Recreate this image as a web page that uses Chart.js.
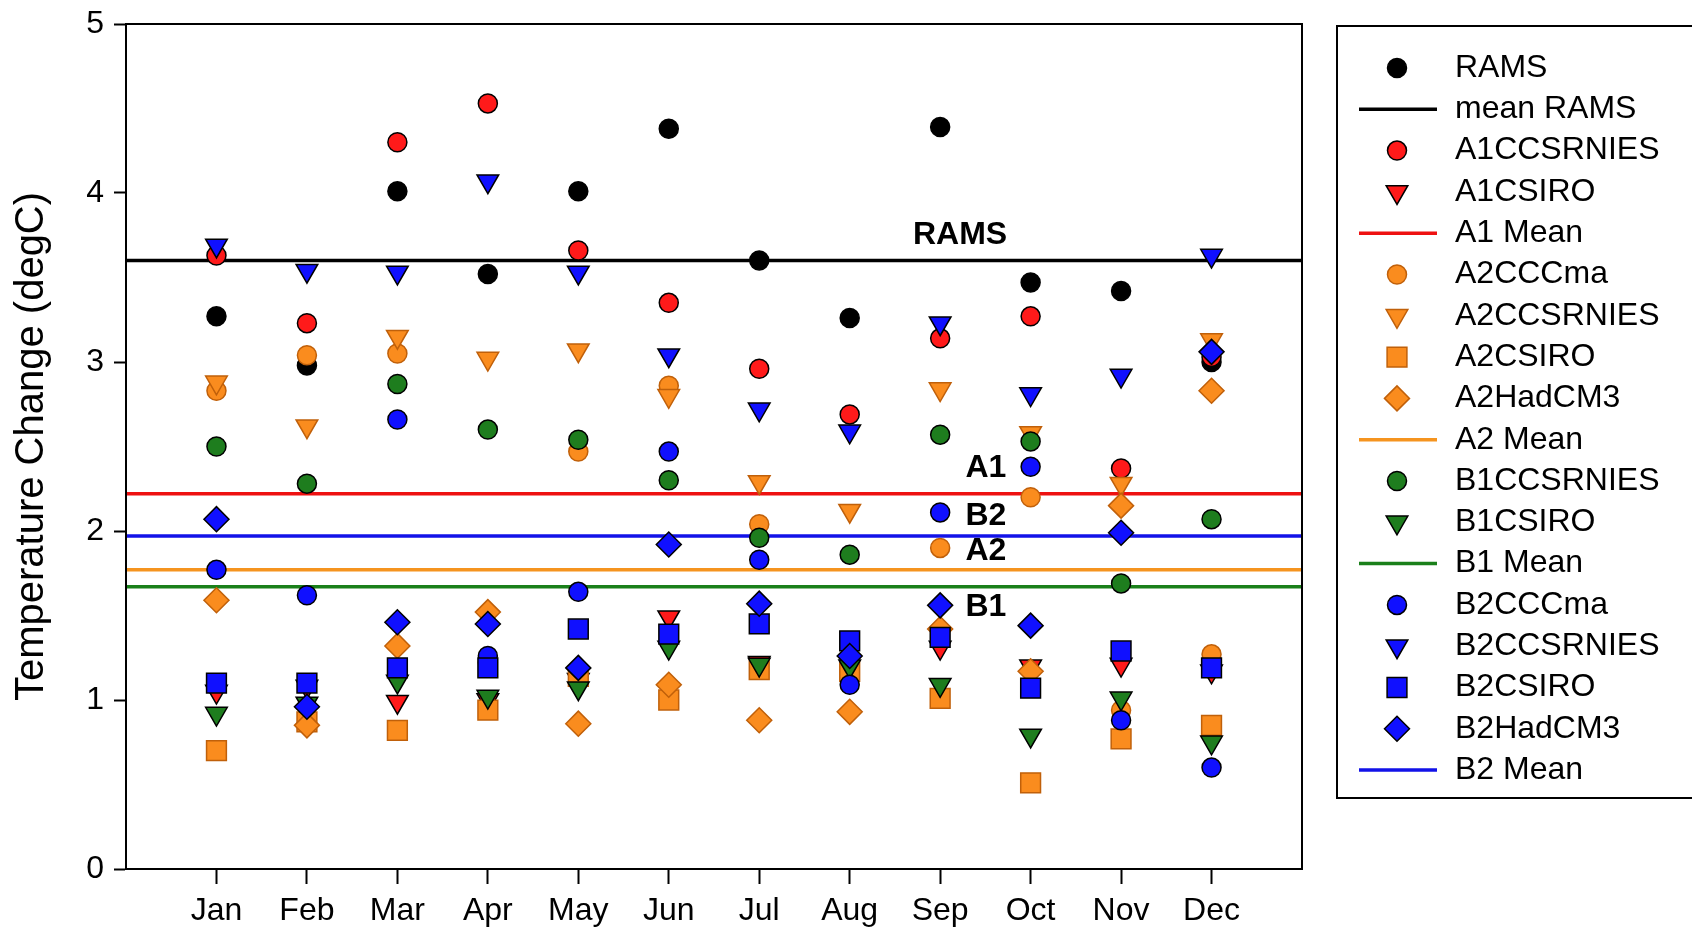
<!DOCTYPE html>
<html>
<head>
<meta charset="utf-8">
<script src="https://cdn.jsdelivr.net/npm/chart.js@4.4.1/dist/chart.umd.min.js"></script>
<style>
  body { margin: 0; background: #fff; }
  #wrap { width: 1692px; height: 933px; }
</style>
</head>
<body>
<div id="wrap"><canvas id="tempChart"></canvas></div>
<script>
const months = ["Jan", "Feb", "Mar", "Apr", "May", "Jun", "Jul", "Aug", "Sep", "Oct", "Nov", "Dec"];
const yTicks = [0, 1, 2, 3, 4, 5];

// temperature change per month (degC)
const rams       = [3.27, 2.98, 4.01, 3.52, 4.01, 4.38, 3.60, 3.26, 4.39, 3.47, 3.42, 3.00];
const a1Ccsrnies = [3.63, 3.23, 4.30, 4.53, 3.66, 3.35, 2.96, 2.69, 3.14, 3.27, 2.37, 3.03];
const a1Csiro    = [1.05, 1.08, 0.99, 1.00, 1.12, 1.49, 1.22, 1.22, 1.31, 1.20, 1.21, 1.17];
const a2Cccma    = [2.83, 3.04, 3.05, 1.22, 2.47, 2.86, 2.04, 1.17, 1.90, 2.20, 0.94, 1.27];
const a2Ccsrnies = [2.88, 2.62, 3.15, 3.02, 3.07, 2.80, 2.29, 2.12, 2.84, 2.58, 2.28, 3.13];
const a2Csiro    = [0.70, 0.87, 0.82, 0.94, 1.14, 1.00, 1.18, 1.17, 1.01, 0.51, 0.77, 0.85];
const a2Hadcm3   = [1.59, 0.85, 1.32, 1.52, 0.86, 1.09, 0.88, 0.93, 1.42, 1.17, 2.15, 2.83];
const b1Ccsrnies = [2.50, 2.28, 2.87, 2.60, 2.54, 2.30, 1.96, 1.86, 2.57, 2.53, 1.69, 2.07];
const b1Csiro    = [0.92, 0.98, 1.11, 1.02, 1.07, 1.31, 1.21, 1.20, 1.09, 0.79, 1.01, 0.75];
const b2Cccma    = [1.77, 1.62, 2.66, 1.26, 1.64, 2.47, 1.83, 1.09, 2.11, 2.38, 0.88, 0.60];
const b2Ccsrnies = [3.69, 3.54, 3.53, 4.07, 3.53, 3.04, 2.72, 2.59, 3.23, 2.81, 2.92, 3.63];
const b2Csiro    = [1.10, 1.10, 1.19, 1.19, 1.42, 1.39, 1.45, 1.35, 1.37, 1.07, 1.29, 1.19];
const b2Hadcm3   = [2.07, 0.96, 1.46, 1.45, 1.19, 1.92, 1.57, 1.26, 1.56, 1.44, 1.99, 3.06];

const meanRams = 3.60;
const meanA1 = 2.22;
const meanA2 = 1.77;
const meanB1 = 1.67;
const meanB2 = 1.97;

// in-plot tags next to the mean lines
const meanTags = [
    { text: "RAMS", x: 9.22, y: 3.75, align: "center" },
    { text: "A1", x: 9.28, y: 2.37, align: "left" },
    { text: "B2", x: 9.28, y: 2.09, align: "left" },
    { text: "A2", x: 9.28, y: 1.88, align: "left" },
    { text: "B1", x: 9.28, y: 1.55, align: "left" },
];

const FONT = '"Liberation Sans", Arial, sans-serif';
const X_MIN = 0;
const X_MAX = 13;

const BLACK = "#000000";
const RED = "#ff1a1a";
const ORANGE = "#fa8c1e";
const ORANGE_EDGE = "#c0600a";
const GREEN = "#1e7d1e";
const BLUE = "#1010ff";

const shapes = {
    circle: { pointStyle: "circle", radius: 9.5, rotation: 0 },
    down: { pointStyle: "triangle", radius: 12.5, rotation: 180 },
    square: { pointStyle: "rect", radius: 14, rotation: 0 },
    diamond: { pointStyle: "rectRot", radius: 12.5, rotation: 0 },
};

function points(label, values, shape, fill, edge) {
    const s = shapes[shape];
    return {
        type: "scatter",
        label: label,
        data: values.map((v, i) => ({ x: i + 1, y: v })),
        pointStyle: s.pointStyle,
        pointRadius: s.radius,
        pointHoverRadius: s.radius,
        rotation: s.rotation,
        backgroundColor: fill,
        borderColor: edge,
        borderWidth: 1.5,
    };
}

function meanLine(label, value, color, width) {
    return {
        type: "line",
        label: label,
        data: [{ x: X_MIN, y: value }, { x: X_MAX, y: value }],
        borderColor: color,
        backgroundColor: color,
        borderWidth: width,
        pointRadius: 0,
        pointHoverRadius: 0,
        fill: false,
        order: 100,
    };
}

const datasets = [
    points("RAMS", rams, "circle", BLACK, BLACK),
    meanLine("mean RAMS", meanRams, BLACK, 3.5),
    points("A1CCSRNIES", a1Ccsrnies, "circle", RED, BLACK),
    points("A1CSIRO", a1Csiro, "down", RED, BLACK),
    meanLine("A1 Mean", meanA1, "#ee1111", 3.5),
    points("A2CCCma", a2Cccma, "circle", ORANGE, ORANGE_EDGE),
    points("A2CCSRNIES", a2Ccsrnies, "down", ORANGE, ORANGE_EDGE),
    points("A2CSIRO", a2Csiro, "square", ORANGE, ORANGE_EDGE),
    points("A2HadCM3", a2Hadcm3, "diamond", ORANGE, ORANGE_EDGE),
    meanLine("A2 Mean", meanA2, "#f5941f", 3.5),
    points("B1CCSRNIES", b1Ccsrnies, "circle", GREEN, BLACK),
    points("B1CSIRO", b1Csiro, "down", GREEN, BLACK),
    meanLine("B1 Mean", meanB1, "#1a801a", 3.5),
    points("B2CCCma", b2Cccma, "circle", BLUE, BLACK),
    points("B2CCSRNIES", b2Ccsrnies, "down", BLUE, BLACK),
    points("B2CSIRO", b2Csiro, "square", BLUE, BLACK),
    points("B2HadCM3", b2Hadcm3, "diamond", BLUE, BLACK),
    meanLine("B2 Mean", meanB2, "#1212e8", 3.5),
];

// later series sit on top, like the original
datasets.forEach((ds, i) => {
    if (ds.type === "scatter") ds.order = 50 - i;
});

const plotFrame = {
    id: "plotFrame",
    afterDraw(chart) {
        const { ctx, chartArea: a } = chart;
        ctx.save();
        ctx.strokeStyle = BLACK;
        ctx.lineWidth = 2;
        ctx.strokeRect(a.left, a.top, a.right - a.left, a.bottom - a.top);
        ctx.restore();
    },
};

const tagLabels = {
    id: "tagLabels",
    afterDatasetsDraw(chart) {
        const { ctx, scales } = chart;
        ctx.save();
        ctx.font = "bold 32px " + FONT;
        ctx.fillStyle = BLACK;
        ctx.textBaseline = "middle";
        meanTags.forEach((t) => {
            ctx.textAlign = t.align;
            ctx.fillText(t.text, scales.x.getPixelForValue(t.x), scales.y.getPixelForValue(t.y));
        });
        ctx.restore();
    },
};

const boxLegend = {
    id: "boxLegend",
    afterDraw(chart) {
        const ctx = chart.ctx;
        const left = 1337, top = 26, firstRow = 68, rowH = 41.3;
        ctx.save();
        ctx.strokeStyle = BLACK;
        ctx.lineWidth = 2;
        ctx.strokeRect(left, top, 420, 772);
        chart.data.datasets.forEach((ds, i) => {
            const y = firstRow + i * rowH;
            if (ds.type === "line") {
                ctx.strokeStyle = ds.borderColor;
                ctx.lineWidth = ds.borderWidth;
                ctx.beginPath();
                ctx.moveTo(1359, y);
                ctx.lineTo(1437, y);
                ctx.stroke();
            } else {
                ctx.fillStyle = ds.backgroundColor;
                ctx.strokeStyle = ds.borderColor;
                ctx.lineWidth = ds.borderWidth;
                Chart.helpers.drawPoint(ctx, {
                    pointStyle: ds.pointStyle,
                    rotation: ds.rotation,
                    radius: ds.pointRadius,
                    borderWidth: ds.borderWidth,
                }, 1397, y);
            }
            ctx.fillStyle = BLACK;
            ctx.font = "32px " + FONT;
            ctx.textAlign = "left";
            ctx.textBaseline = "middle";
            ctx.fillText(ds.label, 1455, y);
        });
        ctx.restore();
    },
};

new Chart(document.getElementById("tempChart"), {
    type: "scatter",
    data: { datasets: datasets },
    options: {
        responsive: true,
        maintainAspectRatio: false,
        animation: false,
        layout: { padding: { top: 24, right: 390, bottom: 0, left: 0 } },
        plugins: {
            legend: { display: false },
            tooltip: { enabled: false },
        },
        scales: {
            x: {
                type: "linear",
                min: X_MIN,
                max: X_MAX,
                afterBuildTicks: (s) => {
                    s.ticks = months.map((m, i) => ({ value: i + 1 }));
                },
                afterFit: (s) => {
                    s.height = 64;
                },
                ticks: {
                    callback: (v) => months[v - 1],
                    autoSkip: false,
                    maxRotation: 0,
                    color: BLACK,
                    padding: 8,
                    font: { family: FONT, size: 32 },
                },
                grid: { drawOnChartArea: false, tickLength: 15, tickColor: BLACK, tickWidth: 2 },
                border: { color: BLACK, width: 2 },
            },
            y: {
                min: 0,
                max: 5,
                afterBuildTicks: (s) => {
                    s.ticks = yTicks.map((v) => ({ value: v }));
                },
                afterFit: (s) => {
                    s.width = 126;
                    s.paddingTop = 0;
                    s.paddingBottom = 0;
                },
                ticks: {
                    color: BLACK,
                    padding: 10,
                    font: { family: FONT, size: 32 },
                },
                grid: { drawOnChartArea: false, tickLength: 12, tickColor: BLACK, tickWidth: 2 },
                border: { color: BLACK, width: 2 },
                title: {
                    display: true,
                    text: "Temperature Change (degC)",
                    color: BLACK,
                    font: { family: FONT, size: 40 },
                    padding: { top: 8, bottom: 0 },
                },
            },
        },
    },
    plugins: [plotFrame, tagLabels, boxLegend],
});
</script>
</body>
</html>
